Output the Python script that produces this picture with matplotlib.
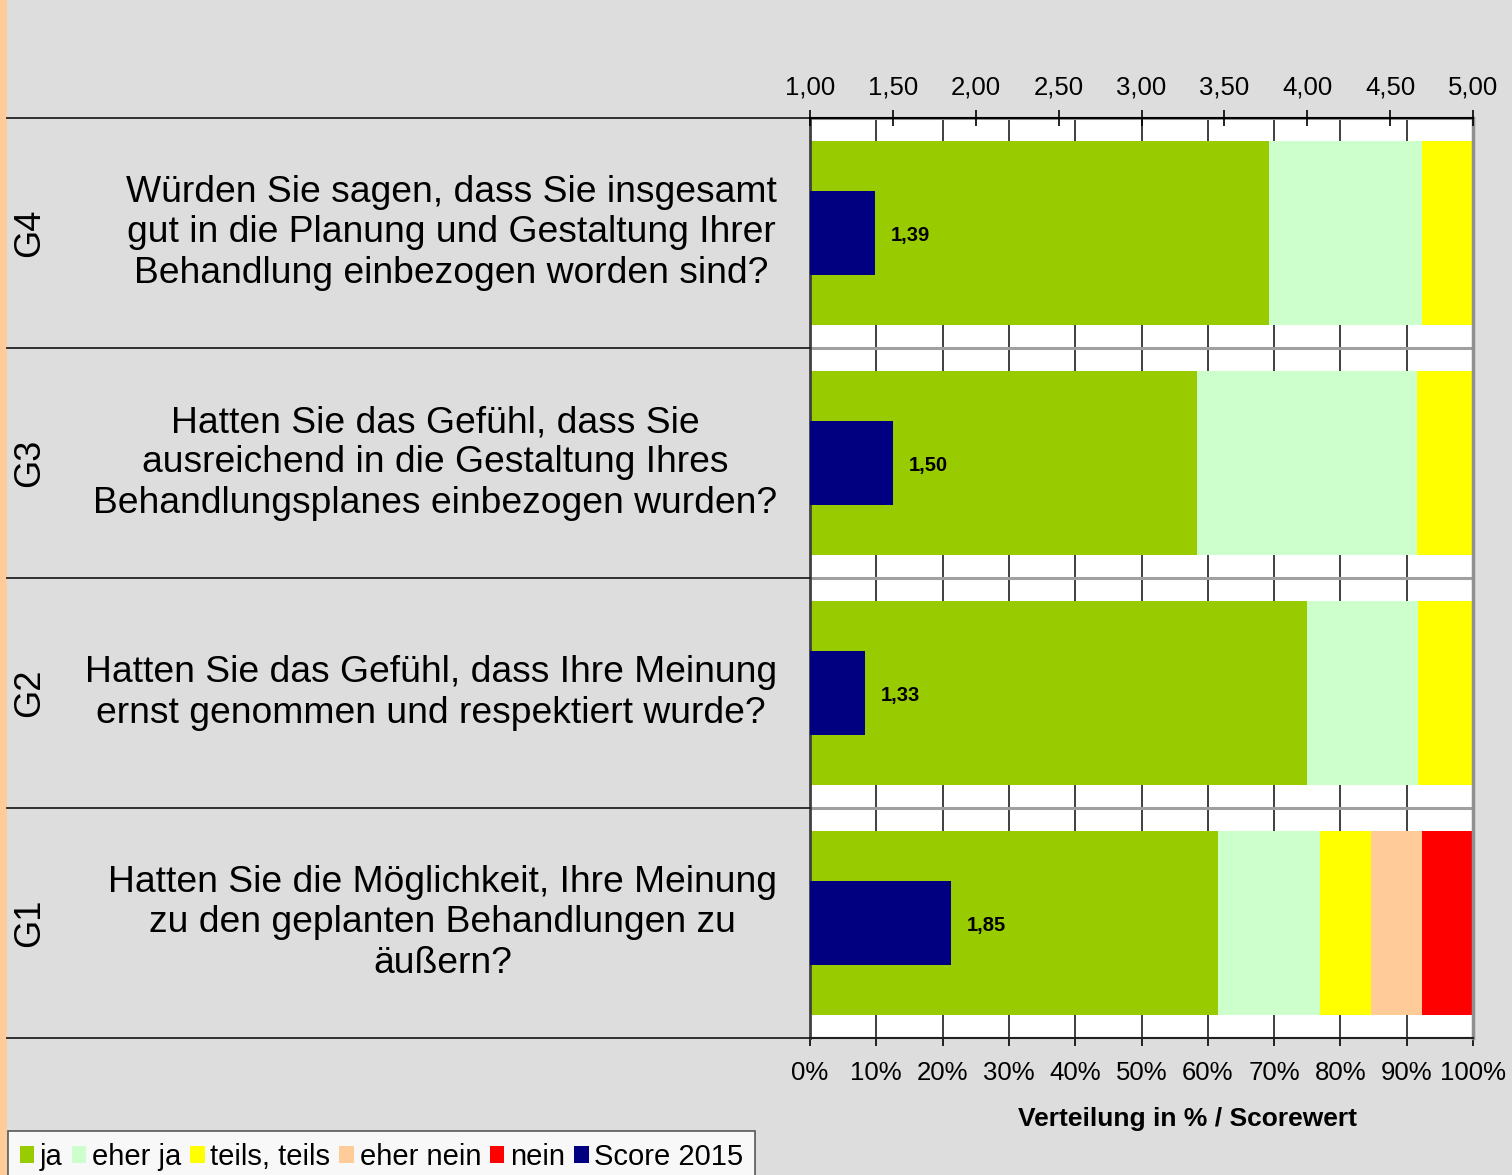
import matplotlib
matplotlib.use("Agg")
import matplotlib.pyplot as plt
from matplotlib.patches import Patch, Rectangle
from matplotlib.transforms import blended_transform_factory
import numpy as np

plt.rcParams['font.family'] = ['Liberation Sans', 'DejaVu Sans']

# ---- data ----
codes = ["G1", "G2", "G3", "G4"]
questions = [
    "Hatten Sie die Möglichkeit, Ihre Meinung\nzu den geplanten Behandlungen zu\näußern?",
    "Hatten Sie das Gefühl, dass Ihre Meinung\nernst genommen und respektiert wurde?",
    "Hatten Sie das Gefühl, dass Sie\nausreichend in die Gestaltung Ihres\nBehandlungsplanes einbezogen wurden?",
    "Würden Sie sagen, dass Sie insgesamt\ngut in die Planung und Gestaltung Ihrer\nBehandlung einbezogen worden sind?",
]
series_names = ["ja", "eher ja", "teils, teils", "eher nein", "nein"]
ja = [61.5, 75.0, 58.3, 69.2]
eher_ja = [15.4, 16.7, 33.3, 23.1]
teils = [7.7, 8.3, 8.4, 7.7]
eher_nein = [7.7, 0.0, 0.0, 0.0]
nein = [7.7, 0.0, 0.0, 0.0]
scores = [1.85, 1.33, 1.50, 1.39]
score_name = "Score 2015"
pct_ticks = list(range(0, 101, 10))
score_ticks = [1.0, 1.5, 2.0, 2.5, 3.0, 3.5, 4.0, 4.5, 5.0]

colors = ["#99CC00", "#CCFFCC", "#FFFF00", "#FFCC99", "#FF0000"]
score_color = "#000080"

W, H = 1512, 1175
fig = plt.figure(figsize=(W / 100, H / 100), dpi=100, facecolor="#DDDDDD")
fig.patches.append(Rectangle((0, 0), 7 / W, 1, transform=fig.transFigure,
                             facecolor="#FFCC99", edgecolor="none", zorder=-1))

ax = fig.add_axes([810 / W, 1 - 1038 / H, 663 / W, 920 / H])
ax.set_facecolor("white")
y = np.arange(len(codes))

left = np.zeros(len(codes))
for vals, col in zip([ja, eher_ja, teils, eher_nein, nein], colors):
    ax.barh(y, vals, left=left, height=0.8, color=col, linewidth=0, zorder=2)
    left += np.array(vals)

ax.set_xlim(0, 100)
ax.set_ylim(-0.5, len(codes) - 0.5)
ax.set_xticks(pct_ticks)
ax.set_xticklabels([f"{t}%" for t in pct_ticks])
ax.tick_params(axis="x", direction="out", length=6, width=1.2, labelsize=18.5, pad=10.5, colors="black")
ax.set_yticks([])
ax.set_yticks(np.arange(-0.5, len(codes), 1.0), minor=True)
ax.tick_params(axis="y", which="both", length=0, labelleft=False)
ax.set_axisbelow(True)
ax.grid(axis="x", which="major", color="#303030", linewidth=1.3, zorder=0)
ax.grid(axis="y", which="minor", color="#A0A0A0", linewidth=2.2, zorder=0)
ax.spines["bottom"].set_color("#202020")
ax.spines["bottom"].set_linewidth(1.5)
ax.spines["left"].set_color("#404040")
ax.spines["left"].set_linewidth(2)
ax.spines["right"].set_color("#909090")
ax.spines["right"].set_linewidth(2.5)
ax.spines["top"].set_color("black")
ax.set_xlabel("Verteilung in % / Scorewert", fontsize=19, fontweight="bold",
              labelpad=16, x=0.569)

# secondary score axis
ax2 = ax.twiny()
ax2.set_xlim(1, 5)
ax2.barh(y, np.array(scores) - 1, left=1, height=0.365, color=score_color,
         linewidth=0, zorder=3)
for yi, s in zip(y, scores):
    ax2.annotate(f"{s:.2f}".replace(".", ","), xy=(s, yi), xytext=(11.5, 0),
                 textcoords="offset points", ha="left", va="center_baseline",
                 fontsize=14.5, fontweight="bold", color="black")
ax2.set_xticks(score_ticks)
ax2.set_xticklabels([f"{t:.2f}".replace(".", ",") for t in score_ticks])
ax2.tick_params(axis="x", direction="inout", length=11.5, width=1.2, labelsize=18.5, pad=7.5)
for sp in ["left", "right", "bottom"]:
    ax2.spines[sp].set_visible(False)
ax2.spines["top"].set_color("black")
ax2.spines["top"].set_linewidth(1.5)

# left-side table text and lines
tr = blended_transform_factory(ax.transAxes, ax.transData)
x_left = (7 - 810) / 663
for b in np.arange(-0.5, len(codes), 1.0):
    ax.plot([x_left, 0], [b, b], transform=tr, color="#222222", linewidth=1.3,
            clip_on=False, zorder=5)
for yi, code, q in zip(y, codes, questions):
    ax.text((30 - 810) / 663, yi, code, transform=tr, rotation=90, ha="center",
            va="center", fontsize=26, color="black")
    ax.text((777 - 810) / 663, yi, q, transform=tr, ha="right", va="center",
            multialignment="center", fontsize=26.8, linespacing=1.2, color="black")

# legend
handles = [Patch(facecolor=c, edgecolor="none") for c in colors] + \
          [Patch(facecolor=score_color, edgecolor="none")]
labels = series_names + [score_name]
leg = fig.legend(handles, labels, loc="upper left",
                 bbox_to_anchor=(8 / W, 1 - 1131 / H), ncol=6, frameon=True,
                 fancybox=False, edgecolor="#333333", facecolor="white",
                 borderaxespad=0, fontsize=21, handlelength=0.5, handleheight=0.5,
                 handletextpad=0.2, columnspacing=0.3, borderpad=0.4)
leg.get_frame().set_linewidth(1.2)

fig.savefig("out.png", dpi=100, facecolor=fig.get_facecolor())
